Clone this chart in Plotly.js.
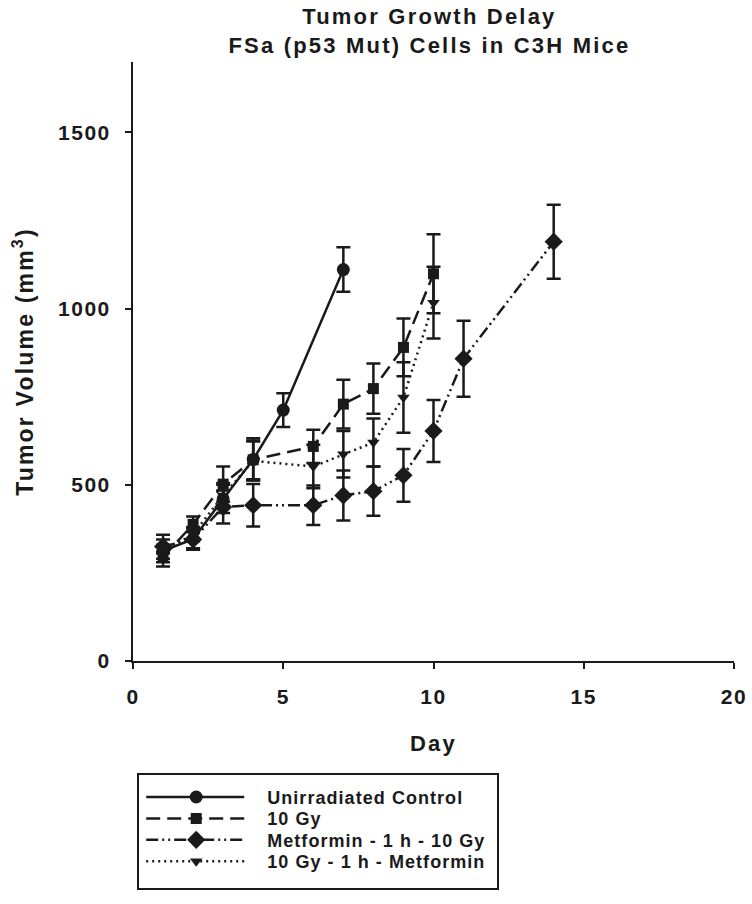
<!DOCTYPE html>
<html><head><meta charset="utf-8">
<script src="https://cdn.plot.ly/plotly-3.0.1.min.js"></script>
<style>
body{margin:0;background:#fff}
.gtitle{letter-spacing:2.2px}
.xtitle,.ytitle{letter-spacing:2.2px}
.xtick text,.ytick text{letter-spacing:1.5px}
.legendtext{letter-spacing:1.05px}
</style></head>
<body><div id="chart" style="width:752px;height:904px"></div>
<script>
// ---- data ----
const seriesNames = ["Unirradiated Control", "10 Gy", "Metformin - 1 h - 10 Gy", "10 Gy - 1 h - Metformin"];

const controlDays = [1, 2, 3, 4, 5, 7];
const controlVol  = [313, 346, 460, 572, 712, 1111];
const controlErr  = [45, 30, 40, 60, 48, 63];

const gyDays = [1, 2, 3, 4, 6, 7, 8, 9, 10];
const gyVol  = [295, 388, 502, 571, 609, 729, 773, 890, 1099];
const gyErr  = [15, 22, 50, 55, 47, 69, 71, 82, 112];

const metGyDays = [1, 2, 3, 4, 6, 7, 8, 9, 10, 11, 14];
const metGyVol  = [325, 345, 437, 442, 442, 470, 482, 527, 653, 858, 1190];
const metGyErr  = [20, 25, 47, 60, 56, 71, 70, 75, 88, 108, 105];

const gyMetDays = [1, 2, 3, 4, 6, 7, 8, 9, 10];
const gyMetVol  = [310, 360, 470, 568, 552, 587, 620, 748, 1017];
const gyMetErr  = [20, 20, 35, 55, 62, 66, 68, 100, 102];

const xTicks = [0, 5, 10, 15, 20];
const yTicks = [0, 500, 1000, 1500];

// ---- chart ----
const FONT = "Liberation Sans, Arial, sans-serif";
const INK = "#1a1a1a";
function mk(name, x, y, e, symbol, msize, dash) {
  return {
    type: "scatter", mode: "lines+markers", name: name, x: x, y: y,
    line: {color: INK, width: 2.5, dash: dash},
    marker: {symbol: symbol, size: msize, color: INK},
    error_y: {type: "data", array: e, visible: true, color: INK, thickness: 2.5, width: 7}
  };
}
const traces = [
  mk(seriesNames[0], controlDays, controlVol, controlErr, "circle", 13, "solid"),
  mk(seriesNames[1], gyDays, gyVol, gyErr, "square", 11, "14px,7px"),
  mk(seriesNames[2], metGyDays, metGyVol, metGyErr, "diamond", 14, "12px,4px,2px,4px,2px,4px"),
  mk(seriesNames[3], gyMetDays, gyMetVol, gyMetErr, "triangle-down", 11, "2px,4px")
];

const axisCommon = {
  showgrid: false, zeroline: false, showline: true, linecolor: INK, linewidth: 2,
  ticks: "outside", ticklen: 6, tickwidth: 2, tickcolor: INK,
  tickfont: {family: FONT, size: 21, color: INK, weight: "bold"}
};
const titleFont = {family: FONT, size: 22, color: INK, weight: "bold"};
const layout = {
  width: 752, height: 904,
  margin: {l: 133, r: 18, t: 62, b: 242},
  paper_bgcolor: "#fff", plot_bgcolor: "#fff",
  showlegend: true,
  title: {
    text: "Tumor Growth Delay<br>FSa (p53 Mut) Cells in C3H Mice",
    font: titleFont,
    xref: "container", x: 0.571, xanchor: "center",
    yref: "container", y: 0.973, yanchor: "top"
  },
  xaxis: Object.assign({}, axisCommon, {
    range: [0, 20], tickvals: xTicks, ticktext: xTicks.map(String),
    ticklabelstandoff: 10,
    title: {text: "Day", font: titleFont, standoff: 28}
  }),
  yaxis: Object.assign({}, axisCommon, {
    range: [0, 1700], tickvals: yTicks, ticktext: yTicks.map(String),
    ticklabelstandoff: 10,
    title: {text: "Tumor Volume (mm<sup>3</sup>)", font: Object.assign({}, titleFont, {size: 23}), standoff: 18}
  }),
  legend: {
    x: 0.007, xanchor: "left", y: -0.185, yanchor: "top",
    bordercolor: INK, borderwidth: 2, bgcolor: "#fff",
    itemwidth: 118, tracegroupgap: 0,
    font: {family: FONT, size: 18, color: INK, weight: "bold"}
  }
};

Plotly.newPlot("chart", traces, layout, {staticPlot: true, displayModeBar: false}).then(function (gd) {
  // lengthen legend sample lines to match the reference
  gd.querySelectorAll(".legend .traces path.js-line").forEach(function (p) {
    p.setAttribute("d", "M7,0h98");
  });
  gd.querySelectorAll(".legend .traces .legendpoints path.scatterpts").forEach(function (p) {
    p.setAttribute("transform", "translate(57,0)");
  });
  // tighten legend row spacing and box height like the reference
  const bg = gd.querySelector(".legend rect.bg");
  if (!bg) return;
  const top = bg.getBoundingClientRect().top;
  const rows = gd.querySelectorAll(".legend g.traces");
  rows.forEach(function (g, i) {
    const line = g.querySelector("path.js-line");
    if (!line) return;
    const r = line.getBoundingClientRect();
    const cur = (r.top + r.bottom) / 2;
    const target = top + 23 + i * 21.4;
    const m = /translate\(\s*([-\d.]+)[ ,]+([-\d.]+)\s*\)/.exec(g.getAttribute("transform") || "");
    if (m) {
      g.setAttribute("transform", "translate(" + m[1] + "," + (parseFloat(m[2]) + target - cur) + ")");
    }
  });
  bg.setAttribute("height", 115);
  bg.setAttribute("width", 360);
});
</script>
</body></html>
